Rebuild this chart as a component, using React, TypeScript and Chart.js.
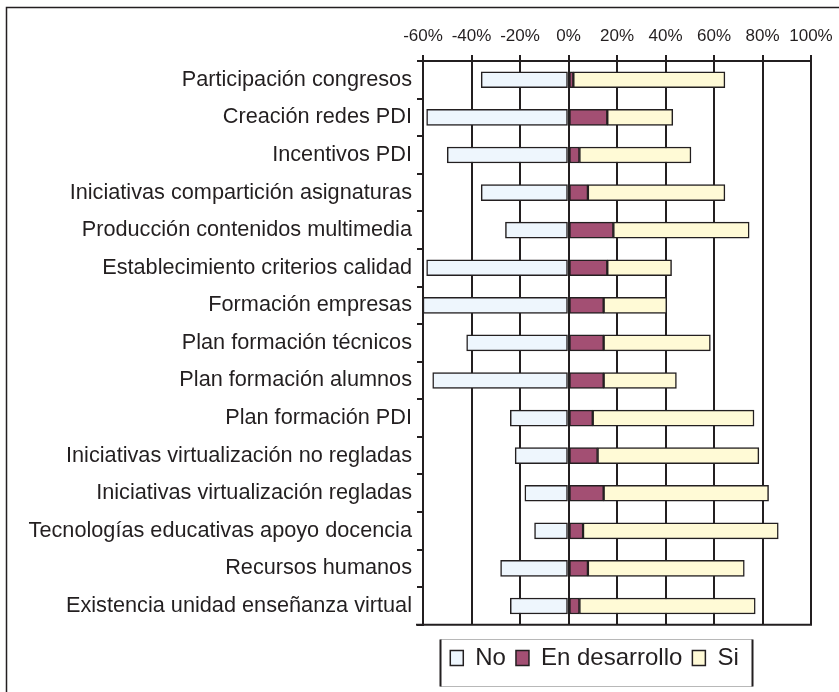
import React, { useEffect, useRef } from "react";
import { Chart, registerables } from "chart.js";

Chart.register(...registerables);

const categories = [
  "Participación congresos",
  "Creación redes PDI",
  "Incentivos PDI",
  "Iniciativas compartición asignaturas",
  "Producción contenidos multimedia",
  "Establecimiento criterios calidad",
  "Formación empresas",
  "Plan formación técnicos",
  "Plan formación alumnos",
  "Plan formación PDI",
  "Iniciativas virtualización no regladas",
  "Iniciativas virtualización regladas",
  "Tecnologías educativas apoyo docencia",
  "Recursos humanos",
  "Existencia unidad enseñanza virtual",
];

const noValues = [-36, -58.5, -50, -36, -26, -58.5, -60, -42, -56, -24, -22, -18, -14, -28, -24];
const enDesarrolloValues = [2, 16, 4.5, 8, 18.5, 16, 14.5, 14.5, 14.5, 10, 12, 14.5, 6, 8, 4.5];
const siValues = [62.5, 27, 46, 56.5, 56, 26.5, 26, 44, 30, 66.5, 66.5, 68, 80.5, 64.5, 72.5];

const seriesNames = ["No", "En desarrollo", "Si"];
const xMin = -60;
const xMax = 100;
const xStep = 20;

const INK = "#231f20";
const FONT = "'Liberation Sans', Arial, sans-serif";

const framePlugin = {
  id: "frames",
  afterLayout(chart: any) {
    // legend frame in the reference sits left of the canvas centre
    if (chart.legend) {
      chart.legend.left = 378;
    }
  },
  afterDraw(chart: any) {
    const ctx = chart.ctx;
    const a = chart.chartArea;
    ctx.save();
    // bottom border of plot area
    ctx.strokeStyle = INK;
    ctx.lineWidth = 2;
    ctx.beginPath();
    ctx.moveTo(a.left - 7, a.bottom);
    ctx.lineTo(a.right + 1, a.bottom);
    ctx.stroke();
    // outer frame (cropped at right and bottom)
    ctx.lineWidth = 1.5;
    ctx.beginPath();
    ctx.moveTo(6.5, chart.height);
    ctx.lineTo(6.5, 7.5);
    ctx.lineTo(chart.width, 7.5);
    ctx.stroke();
    // legend frame
    const hb = chart.legend && chart.legend.legendHitBoxes;
    if (hb && hb.length) {
      const first = hb[0];
      const last = hb[hb.length - 1];
      const left = Math.round(first.left - 10) + 0.5;
      const right = Math.round(last.left + last.width + 13) + 0.5;
      const top = Math.round(first.top - 7) + 0.5;
      const bottom = Math.round(first.top + first.height + 16) + 0.5;
      ctx.strokeStyle = "#b8b8b8";
      ctx.lineWidth = 1;
      ctx.beginPath();
      ctx.moveTo(left, top);
      ctx.lineTo(right, top);
      ctx.moveTo(left, bottom);
      ctx.lineTo(right, bottom);
      ctx.stroke();
      ctx.strokeStyle = INK;
      ctx.lineWidth = 2;
      ctx.beginPath();
      ctx.moveTo(left, top);
      ctx.lineTo(left, bottom);
      ctx.moveTo(right, top);
      ctx.lineTo(right, bottom);
      ctx.stroke();
    }
    ctx.restore();
  },
};

export default function App() {
  const ref = useRef<HTMLCanvasElement | null>(null);

  useEffect(() => {
    if (!ref.current) return;
    const mk = (label: string, data: number[], bg: string) => ({
      label,
      data,
      backgroundColor: bg,
      borderColor: INK,
      borderWidth: 1.5,
      borderSkipped: false,
      barThickness: 16,
    });
    const chart = new Chart(ref.current, {
      type: "bar",
      data: {
        labels: categories,
        datasets: [
          mk(seriesNames[0], noValues, "#eef6fd"),
          mk(seriesNames[1], enDesarrolloValues, "#a34f73"),
          mk(seriesNames[2], siValues, "#fffad6"),
        ],
      },
      plugins: [framePlugin],
      options: {
        indexAxis: "y",
        animation: false,
        responsive: false,
        layout: { padding: { left: 0, right: 28, top: 0, bottom: 12 } },
        scales: {
          x: {
            position: "top",
            stacked: true,
            min: xMin,
            max: xMax,
            ticks: {
              stepSize: xStep,
              color: INK,
              padding: 8,
              autoSkip: false,
              maxRotation: 0,
              minRotation: 0,
              font: { family: FONT, size: 17 },
              callback: (v: any) => `${v}%`,
            },
            grid: { color: INK, lineWidth: 2, tickLength: 6, tickColor: INK },
            border: { color: INK, width: 2 },
            afterFit: (s: any) => {
              s.height = 61;
              s.paddingLeft = 0;
              s.paddingRight = 0;
            },
          },
          y: {
            stacked: true,
            ticks: {
              color: INK,
              padding: 5,
              autoSkip: false,
              font: { family: FONT, size: 21.7 },
            },
            grid: { drawOnChartArea: false, tickLength: 6, tickColor: INK, lineWidth: 2 },
            border: { color: INK, width: 2 },
            afterFit: (s: any) => {
              s.width = 423;
            },
          },
        },
        plugins: {
          tooltip: { enabled: false },
          legend: {
            position: "bottom",
            title: { display: true, text: "", font: { size: 1 }, padding: { top: 10, bottom: 0 } },
            labels: {
              color: INK,
              font: { family: FONT, size: 24 },
              boxWidth: 13,
              boxHeight: 15,
              padding: 10,
            },
          },
        },
      },
    } as any);
    return () => chart.destroy();
  }, []);

  return (
    <div style={{ position: "absolute", left: 0, top: 0, width: 839, height: 692, background: "#fff" }}>
      <canvas ref={ref} width={839} height={692} style={{ width: 839, height: 692, display: "block" }} />
    </div>
  );
}
